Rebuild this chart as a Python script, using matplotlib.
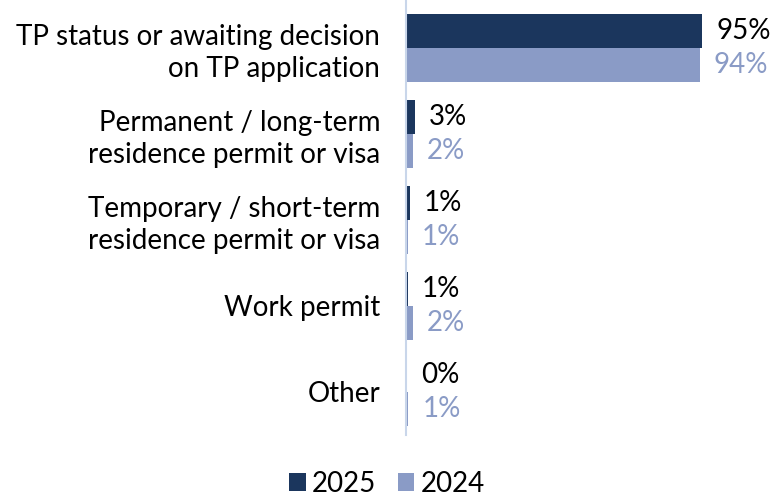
import matplotlib.pyplot as plt
import numpy as np

plt.rcParams['font.family'] = ['Lato', 'DejaVu Sans']

categories = ["TP status or awaiting decision\non TP application",
              "Permanent / long-term\nresidence permit or visa",
              "Temporary / short-term\nresidence permit or visa",
              "Work permit",
              "Other"]
vals_2025 = [95.1, 2.9, 1.2, 0.6, 0.2]
vals_2024 = [94.2, 2.2, 0.6, 2.1, 0.7]

c25 = "#1b365d"
c24 = "#8a9bc6"
fs = 20

fig = plt.figure(figsize=(7.74, 4.98), dpi=100)
ax = fig.add_axes([406 / 774, 63 / 498, 311.6 / 774, 435 / 498])

y = np.arange(len(categories))
h = 0.395
ax.barh(y - h / 2, vals_2025, height=h, color=c25, label="2025")
ax.barh(y + h / 2, vals_2024, height=h, color=c24, label="2024")

# percentage labels just past the end of each bar
for i in range(len(categories)):
    ax.text(vals_2025[i] + 4.5, y[i] - h / 2, f"{vals_2025[i]:.0f}%",
            va="center", ha="left", fontsize=fs, color="black")
    ax.text(vals_2024[i] + 4.5, y[i] + h / 2, f"{vals_2024[i]:.0f}%",
            va="center", ha="left", fontsize=fs, color=c24)

ax.set_xlim(0, 100)
ax.set_ylim(4.5, -0.558)
ax.set_yticks(y)
ax.set_yticklabels(categories, fontsize=fs, linespacing=1.25)
ax.tick_params(axis="y", length=0, pad=18.5)
ax.set_xticks([])
for s in ["top", "right", "bottom"]:
    ax.spines[s].set_visible(False)
ax.spines["left"].set_color("#c9d6ea")
ax.spines["left"].set_linewidth(1.5)

fig.legend(loc="lower center", bbox_to_anchor=(0.5, -0.048), ncol=2,
           frameon=False, fontsize=fs, handlelength=0.58, handleheight=0.58,
           handletextpad=0.22, columnspacing=0.8)

fig.savefig("out.png", dpi=100)
